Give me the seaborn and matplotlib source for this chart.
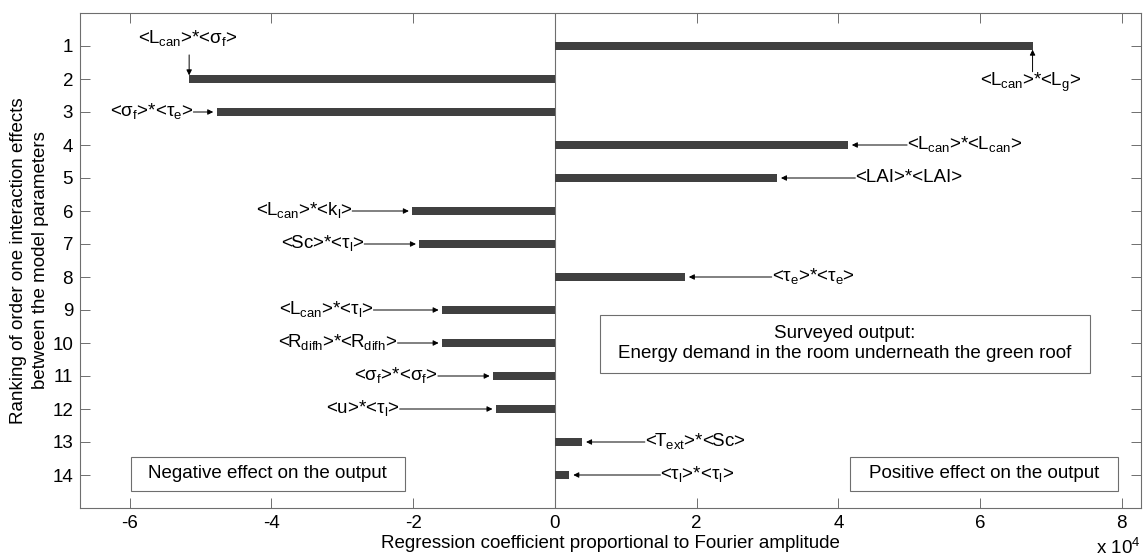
import numpy as np
import pandas as pd
import matplotlib
matplotlib.use('Agg')
import matplotlib.pyplot as plt
from matplotlib.patches import Rectangle
import seaborn as sns

# 数据 (回归系数, 单位 x 10^4)
ranks = list(range(1, 15))
coef_e4 = [6.74, -5.16, -4.77, 4.13, 3.13, -2.01, -1.91, 1.83,
           -1.59, -1.59, -0.87, -0.83, 0.38, 0.20]
labels = [
    r'<L$_{\mathrm{can}}$>*<L$_{\mathrm{g}}$>',
    r'<L$_{\mathrm{can}}$>*<σ$_{\mathrm{f}}$>',
    r'<σ$_{\mathrm{f}}$>*<τ$_{\mathrm{e}}$>',
    r'<L$_{\mathrm{can}}$>*<L$_{\mathrm{can}}$>',
    r'<LAI>*<LAI>',
    r'<L$_{\mathrm{can}}$>*<k$_{\mathrm{l}}$>',
    r'<Sc>*<τ$_{\mathrm{l}}$>',
    r'<τ$_{\mathrm{e}}$>*<τ$_{\mathrm{e}}$>',
    r'<L$_{\mathrm{can}}$>*<τ$_{\mathrm{l}}$>',
    r'<R$_{\mathrm{difh}}$>*<R$_{\mathrm{difh}}$>',
    r'<σ$_{\mathrm{f}}$>*<σ$_{\mathrm{f}}$>',
    r'<u>*<τ$_{\mathrm{l}}$>',
    r'<T$_{\mathrm{ext}}$>*<Sc>',
    r'<τ$_{\mathrm{l}}$>*<τ$_{\mathrm{l}}$>',
]
xticks = [-6, -4, -2, 0, 2, 4, 6, 8]

# 标注文字位置 (布局, 与数据分开): 文字靠近箭头一侧的 x
label_x = [None, None, -5.10, 4.97, 4.24, -2.86, -2.69, 3.06,
           -2.56, -2.22, -1.65, -2.19, 1.27, 1.49]

plt.rcParams['font.family'] = ['Liberation Sans', 'DejaVu Sans']
plt.rcParams['mathtext.fontset'] = 'custom'
plt.rcParams['mathtext.rm'] = 'Liberation Sans'
plt.rcParams['mathtext.it'] = 'Liberation Sans'
plt.rcParams['mathtext.bf'] = 'Liberation Sans:bold'
plt.rcParams['axes.unicode_minus'] = False

FS = 13.5
frame_col = '#6e6e6e'
bar_col = '#404040'

df = pd.DataFrame({'rank': ranks, 'coef': coef_e4})

fig = plt.figure(figsize=(11.47, 5.59), dpi=100)
ax = fig.add_axes([80 / 1147, 1 - 508 / 559, (1141 - 80) / 1147, (508 - 13) / 559])

sns.barplot(data=df, x='coef', y='rank', orient='h', native_scale=True,
            width=0.22, color=bar_col, saturation=1, edgecolor='none', ax=ax)

ax.set_xlim(-6.7, 8.27)
ax.set_ylim(15, 0)
ax.set_xticks(xticks)
ax.set_xticklabels([str(t) for t in xticks])
ax.set_yticks(ranks)
ax.set_yticklabels([str(r) for r in ranks])
ax.axvline(0, color=frame_col, lw=0.8, zorder=0)

for s in ax.spines.values():
    s.set_color(frame_col)
    s.set_linewidth(0.8)
ax.tick_params(direction='in', length=7.5, width=0.7, color=frame_col,
               labelsize=FS, top=True, right=True, pad=5)
ax.set_xlabel('Regression coefficient proportional to Fourier amplitude', fontsize=FS, labelpad=2)
ax.set_ylabel('Ranking of order one interaction effects\nbetween the model parameters',
              fontsize=FS, labelpad=2, linespacing=1.45)

arrow_kw = dict(arrowstyle='-|>', color='black', lw=0.7, mutation_scale=8,
                shrinkA=0, shrinkB=0)

# 1号: 竖直箭头 (下方文字)
ax.annotate('', xy=(coef_e4[0], 1.11), xytext=(coef_e4[0], 1.78), arrowprops=arrow_kw)
ax.text(coef_e4[0] - 0.03, 2.2, labels[0], ha='center', va='baseline', fontsize=FS)
# 2号: 竖直箭头 (上方文字)
ax.annotate('', xy=(coef_e4[1], 1.89), xytext=(coef_e4[1], 1.27), arrowprops=arrow_kw)
ax.text(coef_e4[1] - 0.02, 0.9, labels[1], ha='center', va='baseline', fontsize=FS)

for r, c, lab, tx in zip(ranks[2:], coef_e4[2:], labels[2:], label_x[2:]):
    if c < 0:
        end = c - 0.05
        ax.text(tx, r + 0.12, lab, ha='right', va='baseline', fontsize=FS)
    else:
        end = c + 0.06
        ax.text(tx, r + 0.12, lab, ha='left', va='baseline', fontsize=FS)
    ax.annotate('', xy=(end, r), xytext=(tx, r), arrowprops=arrow_kw)

# 文本框
boxes = [
    ((-5.98, 13.45), 3.86, 1.03, 'Negative effect on the output'),
    ((4.17, 13.45), 3.78, 1.03, 'Positive effect on the output'),
    ((0.64, 9.15), 6.91, 1.75, 'Surveyed output:\nEnergy demand in the room underneath the green roof'),
]
for (x0, y0), w, h, txt in boxes:
    ax.add_patch(Rectangle((x0, y0), w, h, facecolor='white', edgecolor=frame_col, lw=0.8, zorder=3))
    ax.text(x0 + w / 2, y0 + h / 2, txt, ha='center', va='center', fontsize=FS,
            zorder=4, linespacing=1.25)

fig.text(1141 / 1147, 1 - 548 / 559, r'x 10$^{4}$', ha='right', va='center', fontsize=FS)

fig.savefig('out.png', dpi=100)
